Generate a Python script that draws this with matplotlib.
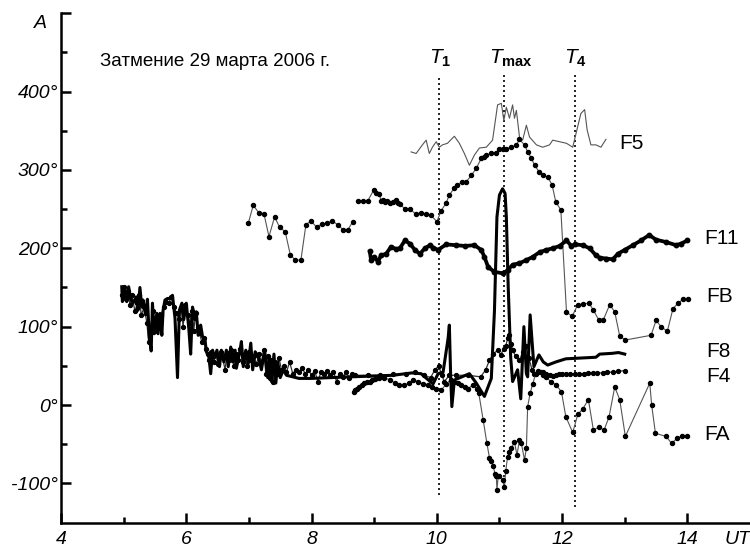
import numpy as np
import matplotlib
matplotlib.use("Agg")
import matplotlib.pyplot as plt

plt.rcParams['font.family'] = ['Liberation Sans', 'DejaVu Sans']
plt.rcParams['mathtext.fontset'] = 'custom'
plt.rcParams['mathtext.it'] = 'Liberation Sans:italic'
plt.rcParams['mathtext.rm'] = 'Liberation Sans'
plt.rcParams['mathtext.bf'] = 'Liberation Sans:bold'

nan = np.nan

# ---------------- data ----------------
f5_t = [9.59, 9.67, 9.77, 9.83, 9.88, 9.93, 9.99, 10.04, 10.09, 10.17, 10.28, 10.36, 10.44, 10.52,
        10.60, 10.68, 10.79, 10.89, 10.97, 11.03, 11.07, 11.11, 11.16, 11.21, 11.24, 11.27, 11.32,
        11.37, 11.43, 11.48, 11.59, 11.69, 11.80, 11.85, 11.96, 12.07, 12.17, 12.23, 12.30, 12.36,
        12.40, 12.46, 12.54, 12.62, 12.70]
f5_v = [323, 321, 332, 338, 321, 329, 336, 329, 332, 334, 343, 334, 321, 306,
        319, 328, 329, 338, 383, 385, 363, 380, 366, 383, 366, 376, 342,
        338, 357, 342, 332, 329, 332, 338, 336, 334, 329, 349, 372, 377,
        351, 332, 332, 329, 339]

fb_t = [6.99, 7.07, 7.16, 7.24, 7.32, 7.41, 7.49, 7.58, 7.66, 7.74, 7.83, 7.91, 7.99, 8.08, 8.16,
        8.25, 8.33, 8.42, 8.50, 8.58, 8.66, 8.70,
        8.74, 8.82, 8.90, 8.99, 9.03, 9.08, 9.11, 9.14, 9.17, 9.21, 9.25, 9.30, 9.35, 9.38, 9.41,
        9.49, 9.57, 9.66, 9.75, 9.83, 9.91, 10.00, 10.07, 10.15, 10.20, 10.28, 10.33, 10.41, 10.47,
        10.55, 10.63, 10.71, 10.75, 10.79, 10.87, 10.95, 11.00, 11.05, 11.11, 11.19, 11.27, 11.32,
        11.40, 11.45, 11.51, 11.56, 11.63, 11.69, 11.77, 11.84, 11.90, 11.98, 12.07, 12.16, 12.25,
        12.33, 12.43, 12.50, 12.59, 12.66, 12.76, 12.84, 12.92, 13.01, 13.42, 13.50, 13.58, 13.68,
        13.77, 13.85, 13.93, 14.01]
fb_v = [232, 255, 245, 244, 215, 240, 227, 221, 192, 185, 185, 230, 235, 227, 231,
        232, 235, 230, 224, 224, 234, nan,
        260, 260, 261, 274, 270, 269, 261, 262, 259, 260, 258, 259, 262, 258, 257,
        250, 250, 244, 245, 244, 242, 234, 248, 258, 268, 277, 281, 285, 285,
        293, 302, 315, 317, 319, 321, 322, 327, 327, 327, 329, 332, 339,
        332, 323, 315, 306, 298, 293, 291, 281, 259, 249, 119, 113, 128,
        129, 130, 121, 108, 109, 128, 119, 88, 83, 89, 108, 100, 94,
        123, 130, 135, 135]

f11_t = [8.93, 8.95, 9.00, 9.06, 9.11, 9.19, 9.27, 9.35, 9.41, 9.49, 9.57, 9.65, 9.73, 9.81, 9.89,
         9.94, 10.02, 10.15, 10.30, 10.45, 10.60, 10.71, 10.76, 10.82, 10.92, 11.06, 11.13, 11.21,
         11.32, 11.43, 11.53, 11.64, 11.75, 11.85, 11.96, 12.07, 12.15, 12.20, 12.33, 12.44, 12.54,
         12.60, 12.70, 12.81, 12.89, 13.00, 13.13, 13.26, 13.39, 13.50, 13.66, 13.82, 13.90, 14.00]
f11_v = [196, 185, 189, 183, 191, 193, 202, 199, 200, 210, 206, 198, 193, 200, 204,
         201, 198, 205, 204, 203, 204, 198, 189, 176, 170, 168, 172, 179,
         181, 185, 189, 195, 198, 200, 203, 210, 203, 205, 204, 200, 191,
         188, 187, 186, 193, 198, 204, 210, 217, 211, 208, 204, 206, 210]

f8_t = [4.97, 4.98, 5.02, 5.05, 5.08, 5.11, 5.15, 5.20, 5.23, 5.26, 5.29, 5.31, 5.35, 5.38, 5.41,
        5.44, 5.46, 5.49, 5.53, 5.55, 5.58, 5.61, 5.63, 5.66, 5.70, 5.74, 5.78, 5.82, 5.86, 5.89,
        5.93, 5.96, 6.00, 6.04, 6.07, 6.10, 6.14, 6.16, 6.19, 6.23, 6.26, 6.30, 6.32, 6.36, 6.39,
        6.42, 6.45, 6.49, 6.53, 6.56, 6.60, 6.64, 6.67, 6.71, 6.74, 6.78, 6.80, 6.85, 6.88, 6.91,
        6.95, 6.99, 7.03, 7.06, 7.10, 7.15, 7.20, 7.25, 7.30, 7.33, 7.36, 7.40, 7.43, 7.46, 7.50,
        7.55, 7.60, 7.70, 7.80, 8.00, 8.30, 8.60, 9.00, 9.30, 9.60, 9.75, 9.85, 9.94, 10.02, 10.10,
        10.18, 10.20, 10.22, 10.24, 10.28, 10.40, 10.52, 10.63, 10.76, 10.87, 10.92, 10.96, 11.00,
        11.05, 11.09, 11.11, 11.14, 11.18, 11.21, 11.29, 11.34, 11.39, 11.43, 11.45, 11.49, 11.55,
        11.63, 11.70, 11.77, 11.90, 12.06, 12.30, 12.54, 12.60, 12.80, 12.90, 13.00]
f8_v = [151, 132, 147, 132, 151, 136, 130, 138, 121, 150, 125, 134, 115, 135, 87,
        69, 130, 91, 117, 91, 117, 89, 121, 134, 136, 136, 140, 111, 35, 121,
        130, 109, 130, 98, 65, 125, 109, 119, 89, 102, 87, 83, 68, 62, 40,
        70, 60, 70, 49, 70, 55, 70, 49, 74, 55, 70, 47, 66, 81, 49,
        70, 53, 79, 45, 68, 62, 45, 70, 35, 60, 30, 65, 28, 55, 35,
        45, 38, 36, 34, 34, 35, 36, 37, 38, 41, 40, 33, 27, 40, 42,
        85, 102, 40, -2, 32, 36, 40, 28, 11, 34, 120, 240, 268,
        276, 270, 240, 150, 60, 30, 45, 8, 100, 40, 36, 115, 49,
        64, 55, 51, 55, 59, 60, 61, 65, 66, 67, 65]

f4_t = [4.97, 5.00, 5.03, 5.07, 5.10, 5.13, 5.18, 5.22, 5.25, 5.28, 5.33, 5.37, 5.40, 5.43, 5.47,
        5.50, 5.54, 5.57, 5.60, 5.64, 5.68, 5.72, 5.76, 5.80, 5.84, 5.88, 5.92, 5.95, 5.98, 6.02,
        6.06, 6.09, 6.12, 6.15, 6.18, 6.21, 6.25, 6.28, 6.31, 6.34, 6.37, 6.40, 6.44, 6.47, 6.51,
        6.55, 6.58, 6.62, 6.65, 6.69, 6.72, 6.76, 6.79, 6.83, 6.86, 6.90, 6.93, 6.97, 7.00, 7.04,
        7.08, 7.12, 7.16, 7.20, 7.24, 7.27, 7.30, 7.33, 7.36, 7.39, 7.42, 7.45, 7.48, 7.52, 7.56,
        7.60, 7.65, 7.70, 7.75, 7.80, 7.85, 7.90, 7.95, 8.00, 8.05, 8.10, 8.15, 8.20, 8.25, 8.30,
        8.35, 8.40, 8.45, 8.50, 8.55, 8.60, 8.65, 8.70, 8.90, 9.10, 9.30, 9.50, 9.65, 9.80, 9.90,
        9.97, 10.03, 10.08, 10.12, 10.20, 10.30, 10.50, 10.70, 10.78, 10.84, 10.90, 10.97, 11.02,
        11.07, 11.10, 11.13, 11.16, 11.19, 11.21, 11.26, 11.32, 11.37, 11.42, 11.47, 11.52, 11.55,
        11.62, 11.69, 11.75, 11.80, 11.85, 11.90, 11.95, 12.00, 12.06, 12.12, 12.20, 12.27, 12.35,
        12.42, 12.49, 12.56, 12.65, 12.72, 12.81, 12.90, 13.00]
f4_v = [140, 150, 135, 145, 128, 140, 120, 130, 140, 115, 125, 105, 80, 100, 120,
        95, 110, 100, 115, 125, 132, 130, 138, 125, 118, 110, 122, 100, 128, 115,
        105, 120, 95, 118, 100, 92, 80, 85, 72, 65, 58, 68, 55, 65, 52,
        68, 60, 45, 66, 58, 70, 50, 65, 58, 72, 55, 65, 50, 68, 58,
        62, 52, 65, 55, 70, 40, 62, 35, 58, 30, 55, 40, 60, 45, 50,
        42, 55, 40, 45, 42, 47, 40, 45, 38, 44, 30, 42, 40, 44, 38,
        42, 30, 40, 36, 42, 35, 40, 38, 38, 38, 39, 40, 42, 38, 35,
        45, 50, 38, 30, 38, 38, 38, 36, 45, 57, 65, 70, 64,
        72, 75, 85, 89, 78, 70, 62, 57, 68, 75, 60, 45, 40,
        42, 42, 39, 38, 37, 38, 39, 39, 40, 40, 40, 40, 40,
        41, 41, 41, 41, 42, 42, 43, 44]

fa_t = [8.67, 8.70, 8.73, 8.76, 8.80, 8.84, 8.88, 8.93, 8.97, 9.02, 9.08, 9.15, 9.26, 9.33, 9.39,
        9.47, 9.55, 9.62, 9.70, 9.78, 9.86, 9.93, 9.99, 10.07, 10.15, 10.22, 10.28, 10.34, 10.39,
        10.45, 10.50, 10.58, 10.64, 10.67, 10.74, 10.80, 10.84, 10.87, 10.90, 10.93, 10.95, 10.96,
        10.98, 11.00, 11.05, 11.08, 11.10, 11.13, 11.16, 11.19, 11.24, 11.28, 11.32, 11.35, 11.40,
        11.43, 11.45, 11.49, 11.53, 11.58, 11.62, 11.66, 11.70, 11.74, 11.82, 11.90, 11.99, 12.06,
        12.17, 12.25, 12.33, 12.42, 12.50, 12.59, 12.67, 12.75, 12.84, 12.92, 13.01, 13.40, 13.43,
        13.49, 13.66, 13.75, 13.84, 13.91, 13.99]
fa_v = [17, 19, 21, 23, 26, 28, 29, 30, 32, 33, 34, 35, 32, 28, 25,
        25, 28, 32, 30, 27, 26, 23, 20, 19, 27, 32, 30, 28, 26,
        23, 21, 26, 20, 15, -19, -49, -67, -72, -78, -88, -91, -108,
        -91, -91, -96, -105, -84, -66, -60, -55, -47, -64, -44, -49, -70,
        -55, -2, 15, 27, 40, 43, 42, 38, 36, 30, 26, 17, -15,
        -35, -12, -5, 7, -32, -28, -32, -15, 23, 7, -40, 28, 0,
        -36, -40, -49, -42, -40, -39]

contact_times = [10.03, 11.08, 12.21]
contact_labels = [r'$\mathit{T}_{\mathbf{1}}$', r'$\mathit{T}_{\mathbf{max}}$', r'$\mathit{T}_{\mathbf{4}}$']
contact_bottoms = [-115, -105, -130]

series_labels = ['F5', 'F11', 'FB', 'F8', 'F4', 'FA']
label_pos = [(12.92, 334), (14.27, 212), (14.30, 138), (14.30, 68), (14.30, 36), (14.27, -38)]

xticks_major = [4, 6, 8, 10, 12, 14]
xticks_minor = [5, 7, 9, 11, 13]
yticks_major = [-100, 0, 100, 200, 300, 400, 500]
ytick_labels = ['-100°', '0°', '100°', '200°', '300°', '400°', '']
yticks_minor = [-50, 50, 150, 250, 350, 450]

# ---------------- plot ----------------
fig = plt.figure(figsize=(7.5, 5.5), dpi=100)
ax = fig.add_axes([61 / 750, 0.0498, 1 - 61 / 750, 0.976 - 0.0498])
ax.set_xlim(4, 15)
ax.set_ylim(-150, 500)

for t, lab, b in zip(contact_times, contact_labels, contact_bottoms):
    ax.plot([t, t], [b, 421], color='black', lw=1.2, ls=(0, (1.2, 1.8)), zorder=1)

ax.plot(f5_t, f5_v, color='#555555', lw=0.8, zorder=2)
ax.plot(fb_t, fb_v, color='#555555', lw=0.8, marker='o', ms=2.9, mfc='black', mec='black', zorder=3)
ax.plot(f11_t, f11_v, color='black', lw=2.7, marker='o', ms=3.2, zorder=3)
ax.plot(f8_t, f8_v, color='black', lw=2.2, zorder=4)
ax.plot(f4_t, f4_v, color='#333333', lw=0.9, marker='o', ms=2.8, mfc='black', mec='black', zorder=3)
ax.plot(fa_t, fa_v, color='#555555', lw=0.8, marker='o', ms=2.9, mfc='black', mec='black', zorder=3)

label_x = [10.05, 11.19, 12.22]
for x, lab in zip(label_x, contact_labels):
    ax.text(x, 443, lab, ha='center', va='center', fontsize=15)

for lab, (x, y) in zip(series_labels, label_pos):
    ax.text(x, y, lab, ha='left', va='center', fontsize=15)

ax.text(4.62, 438, 'Затмение 29 марта 2006 г.', ha='left', va='center', fontsize=13.5)

for s in ['top', 'right']:
    ax.spines[s].set_visible(False)
for s in ['left', 'bottom']:
    ax.spines[s].set_linewidth(1.8)

ax.set_xticks(xticks_major)
ax.set_xticks(xticks_minor, minor=True)
ax.set_xticklabels([str(v) for v in xticks_major], fontstyle='italic', fontsize=14)
ax.set_yticks(yticks_major)
ax.set_yticks(yticks_minor, minor=True)
ax.set_yticklabels(ytick_labels, fontstyle='italic', fontsize=14)
ax.tick_params(which='major', direction='in', length=7, width=1.8)
ax.tick_params(which='minor', direction='in', length=4.5, width=1.8)
ax.tick_params(axis='x', which='major', pad=6)
ax.tick_params(axis='y', which='major', pad=2)

fig.text(40 / 750, 1 - 24 / 550, 'A', ha='center', va='center', fontsize=14, fontstyle='italic')
fig.text(738 / 750, 1 - 540 / 550, 'UT', ha='center', va='center', fontsize=14, fontstyle='italic')

fig.savefig('out.png', dpi=100)
